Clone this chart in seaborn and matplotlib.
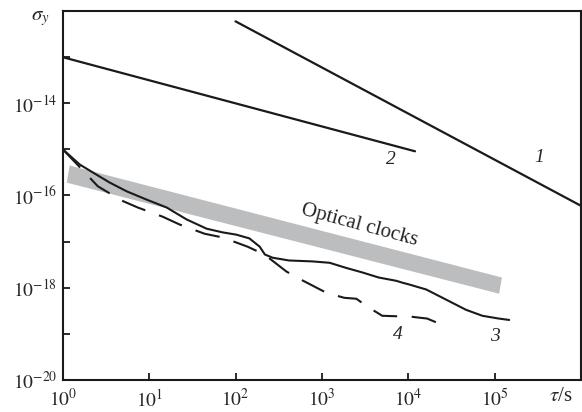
import numpy as np
import pandas as pd
import seaborn as sns
import matplotlib
matplotlib.use("Agg")
import matplotlib.pyplot as plt

# line 1 and 2 (straight power laws)
tau_1 = [1e2, 1e6]
sig_1 = [6e-13, 6e-17]
tau_2 = [1.0, 1.2e4]
sig_2 = [1e-13, 9.1e-16]

# optical clocks band corners (ul, ur, lr, ll)
band_tau = [1.2, 1.22e5, 1.13e5, 1.11]
band_sig = [4.47e-16, 1.66e-18, 7.4e-19, 1.9e-16]

# curve 3 (solid), log10 values
log_tau_3 = [0, 0.197, 0.347, 0.543, 0.740, 0.971, 1.202, 1.434, 1.665, 1.850, 2.01,
             2.16, 2.28, 2.34, 2.43, 2.62, 2.89, 3.09, 3.28, 3.47, 3.66, 3.86, 3.93,
             4.01, 4.21, 4.44, 4.67, 4.86, 5.05, 5.17]
log_sig_3 = [-15.0, -15.33, -15.50, -15.72, -15.91, -16.09, -16.26, -16.52, -16.72, -16.80,
             -16.85, -16.93, -17.11, -17.28, -17.35, -17.41, -17.43, -17.46, -17.57, -17.67,
             -17.78, -17.85, -17.89, -17.93, -18.04, -18.26, -18.48, -18.61, -18.67, -18.70]

# curve 4 (dashed)
log_tau_4 = [0, 0.254, 0.405, 0.682, 0.867, 1.156, 1.353, 1.642, 1.850, 2.139, 2.335,
             2.590, 2.763, 3.052, 3.260, 3.40, 3.526, 3.70, 4.035, 4.22, 4.45]
log_sig_4 = [-15.0, -15.50, -15.80, -16.11, -16.26, -16.46, -16.63, -16.83, -16.91, -17.11,
             -17.28, -17.65, -17.83, -18.11, -18.22, -18.24, -18.41, -18.61, -18.63, -18.67,
             -18.85]

x_ticks = [1e0, 1e1, 1e2, 1e3, 1e4, 1e5, 1e6]
x_labels = [r"$10^{0}$", r"$10^{1}$", r"$10^{2}$", r"$10^{3}$", r"$10^{4}$", r"$10^{5}$", ""]
y_exps = [-20, -19, -18, -17, -16, -15, -14, -13, -12]

sns.set_theme(style="ticks")
plt.rcParams["font.family"] = ["Liberation Serif", "DejaVu Serif"]
plt.rcParams["mathtext.fontset"] = "stix"

df3 = pd.DataFrame({"tau": 10 ** np.array(log_tau_3), "sig": 10 ** np.array(log_sig_3)})
df4 = pd.DataFrame({"tau": 10 ** np.array(log_tau_4), "sig": 10 ** np.array(log_sig_4)})

fig = plt.figure(figsize=(5.82, 4.12), dpi=100)
ax = fig.add_axes([0.108, 0.078, 0.89, 0.895])
ax.set_xscale("log")
ax.set_yscale("log")

ax.fill(band_tau, band_sig, color="#bcbdbf", lw=0, zorder=1)

ink = "#1a1a1a"
sns.lineplot(x=tau_1, y=sig_1, ax=ax, color=ink, lw=1.6, estimator=None, zorder=3)
sns.lineplot(x=tau_2, y=sig_2, ax=ax, color=ink, lw=1.6, estimator=None, zorder=3)
sns.lineplot(data=df3, x="tau", y="sig", ax=ax, color=ink, lw=1.5, estimator=None,
             sort=False, zorder=3)
sns.lineplot(data=df4, x="tau", y="sig", ax=ax, color=ink, lw=1.5, estimator=None,
             sort=False, zorder=3, linestyle=(0, (12, 7)))

ax.set_xlim(1, 1e6)
ax.set_ylim(1e-20, 1e-12)
ax.set_xticks(x_ticks)
ax.set_xticklabels(x_labels)
ax.set_yticks([10.0 ** e for e in y_exps])
ax.set_yticklabels([rf"$10^{{{e}}}$" if e % 2 == 0 and e < -13 else "" for e in y_exps])
ax.minorticks_off()
ax.tick_params(direction="in", length=5, width=1.3, labelsize=14, color=ink)
ax.tick_params(axis="x", pad=6)
ax.tick_params(axis="y", pad=4)
for s in ax.spines.values():
    s.set_linewidth(1.5)
    s.set_color(ink)
ax.set_xlabel("")
ax.set_ylabel("")

fig.text(0.07, 0.955, r"$\sigma_y$", fontsize=15, ha="center", va="center")
fig.text(0.963, 0.037, r"$\tau$/s", fontsize=15, ha="center", va="center")

# curve labels
ax.text(3.3e5, 6.8e-16, "1", style="italic", fontsize=14, ha="center", va="center")
ax.text(6.3e3, 6e-16, "2", style="italic", fontsize=14, ha="center", va="center")
ax.text(1e5, 8.6e-20, "3", style="italic", fontsize=14, ha="center", va="center")
ax.text(7.5e3, 9.6e-20, "4", style="italic", fontsize=14, ha="center", va="center")
ax.text(2.7e3, 2.3e-17, "Optical clocks", fontsize=15, rotation=-15,
        ha="center", va="center")

fig.savefig("out.png", dpi=100)
